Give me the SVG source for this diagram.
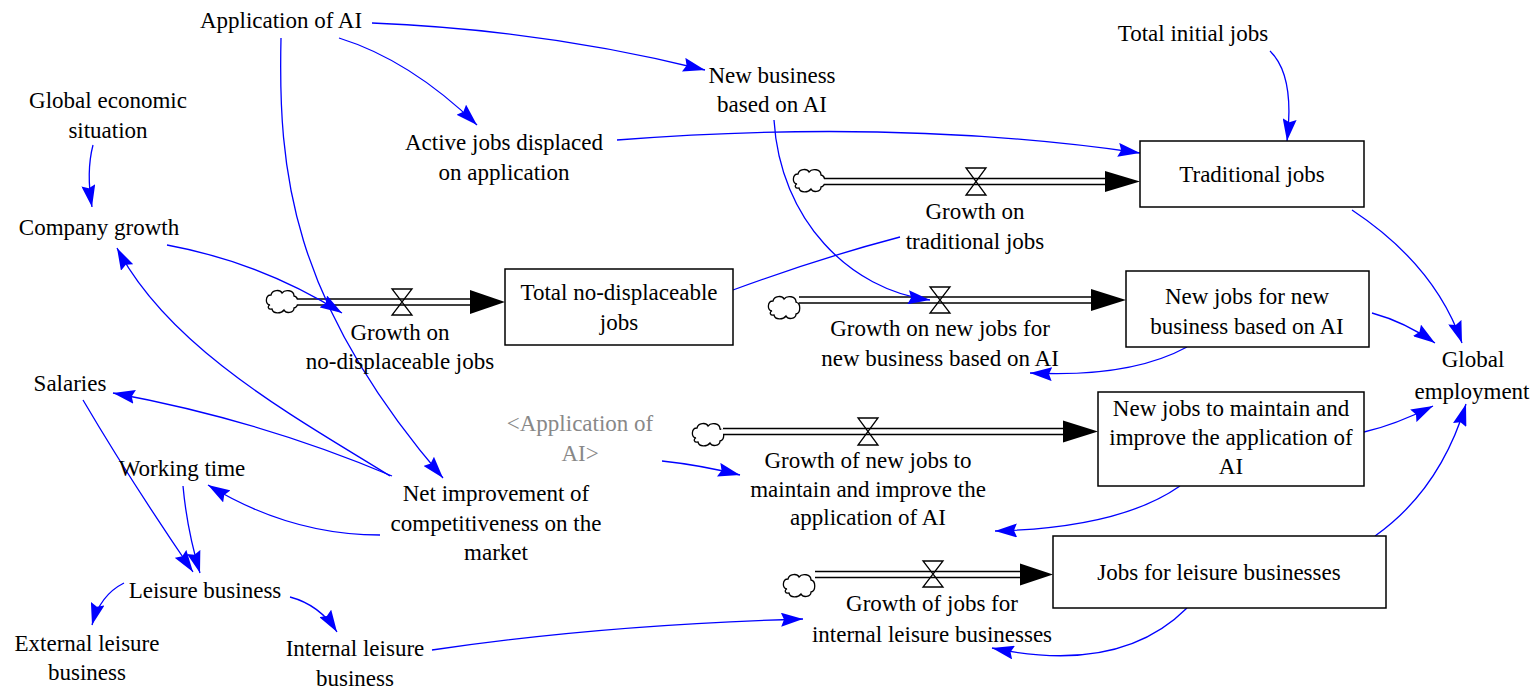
<svg xmlns="http://www.w3.org/2000/svg" width="1540" height="690" viewBox="0 0 1540 690">
<style>
text{font-family:"Liberation Serif","Times New Roman",serif;font-size:23px;fill:#000;text-anchor:middle}
.shadow{fill:#888}
.box{fill:#fff;stroke:#000;stroke-width:1.5}
.link{fill:none;stroke:#0000ff;stroke-width:1.3;marker-end:url(#a)}
.nolink{fill:none;stroke:#0000ff;stroke-width:1.3}
.pipeo{fill:none;stroke:#000;stroke-width:7.5}
.pipei{fill:none;stroke:#fff;stroke-width:4.5}
.valve{fill:none;stroke:#000;stroke-width:1.3}
.head{fill:#000}
.cloud{fill:#fff;stroke:#000;stroke-width:1.3}
</style>
<defs>
<marker id="a" viewBox="0 0 22 14" refX="22" refY="7" markerWidth="22" markerHeight="14" orient="auto" markerUnits="userSpaceOnUse">
<path d="M0,0 L22,7 L0,14 L3,7 Z" fill="#0000ff"/>
</marker>
<path id="cl" d="M-12,4 C-17,4 -17,-6 -11,-6 C-10,-11 -2,-12 0,-8 C3,-12 12,-11 12,-5 C17,-4 17,6 12,7 C12,12 4,13 2,9 C-1,13 -9,13 -10,8 C-14,9 -15,5 -12,4 Z"/>
</defs>
<rect width="1540" height="690" fill="#fff"/>

<g id="flows">
<g id="flow-traditional">
<use href="#cl" class="cloud" transform="translate(809,180)"/>
<path class="pipeo" d="M824,181.5 H1107"/><path class="pipei" d="M822,181.5 H1108"/>
<polygon class="head" points="1105,171 1140,181.5 1105,192"/>
<polygon class="valve" points="966,168 986,168 966,195 986,195"/>
</g>
<g id="flow-nodisplace">
<use href="#cl" class="cloud" transform="translate(282,301)"/>
<path class="pipeo" d="M297,302 H472"/><path class="pipei" d="M295,302 H473"/>
<polygon class="head" points="470,290 505,302 470,314"/>
<polygon class="valve" points="392,289 412,289 392,315 412,315"/>
</g>
<g id="flow-newbusiness">
<use href="#cl" class="cloud" transform="translate(784,307)"/>
<path class="pipeo" d="M799,300 H1093"/><path class="pipei" d="M797,300 H1094"/>
<polygon class="head" points="1091,289 1126,300 1091,311"/>
<polygon class="valve" points="930,287 950,287 930,313 950,313"/>
</g>
<g id="flow-maintain">
<use href="#cl" class="cloud" transform="translate(708,434)"/>
<path class="pipeo" d="M723,431.5 H1065"/><path class="pipei" d="M721,431.5 H1066"/>
<polygon class="head" points="1063,420.5 1098,431.5 1063,442.5"/>
<polygon class="valve" points="858,418 878,418 858,445 878,445"/>
</g>
<g id="flow-leisure">
<use href="#cl" class="cloud" transform="translate(799,585)"/>
<path class="pipeo" d="M815,574.5 H1022"/><path class="pipei" d="M813,574.5 H1023"/>
<polygon class="head" points="1020,563.5 1053,574.5 1020,585.5"/>
<polygon class="valve" points="923,561 943,561 923,587 943,587"/>
</g>
</g>

<g id="connectors">
<path class="link" d="M372,23 Q545,30 705,70"/>
<path class="link" d="M339,38 Q410,60 477,125"/>
<path class="link" d="M281,38 C278,170 290,300 443,478"/>
<path class="link" d="M93,145 Q86,172 92,207"/>
<path class="link" d="M167,245 Q260,262 342,313"/>
<path class="link" d="M390,476 C300,420 170,350 117,248"/>
<path class="link" d="M392,476 Q260,420 113,393"/>
<path class="link" d="M380,535 Q290,535 208,485"/>
<path class="link" d="M83,400 Q130,480 193,572"/>
<path class="link" d="M183,486 Q187,530 200,573"/>
<path class="link" d="M124,583 Q100,595 92,625"/>
<path class="link" d="M290,597 Q320,605 337,632"/>
<path class="link" d="M432,650 Q600,625 803,619"/>
<path class="link" d="M617,140 Q900,118 1140,153"/>
<path class="link" d="M1270,51 Q1295,75 1287,141"/>
<path class="link" d="M774,120 C780,220 850,290 930,300"/>
<path class="nolink" d="M733,290 Q820,258 900,237"/>
<path class="link" d="M1352,210 Q1435,265 1462,343"/>
<path class="link" d="M1372,313 Q1405,322 1435,343"/>
<path class="link" d="M1187,347 Q1130,378 1030,373"/>
<path class="link" d="M1364,432 Q1395,425 1433,406"/>
<path class="link" d="M1375,536 Q1440,490 1466,404"/>
<path class="link" d="M1180,486 Q1120,528 995,531"/>
<path class="link" d="M662,461 Q700,465 740,475"/>
<path class="link" d="M1187,608 Q1120,675 992,648"/>
</g>

<g id="application-of-ai"><text x="281" y="28">Application of AI</text></g>
<g id="global-economic-situation"><text x="108" y="108">Global economic</text><text x="108" y="138">situation</text></g>
<g id="company-growth"><text x="99" y="235">Company growth</text></g>
<g id="active-jobs-displaced"><text x="504" y="150">Active jobs displaced</text><text x="504" y="180">on application</text></g>
<g id="new-business"><text x="772" y="83">New business</text><text x="772" y="112">based on AI</text></g>
<g id="total-initial-jobs"><text x="1193" y="41">Total initial jobs</text></g>
<g id="traditional-jobs"><rect class="box" x="1140" y="141" width="224" height="66"/><text x="1252" y="182">Traditional jobs</text></g>
<g id="growth-traditional"><text x="975" y="219">Growth on</text><text x="975" y="249">traditional jobs</text></g>
<g id="total-no-displaceable"><rect class="box" x="505" y="269" width="228" height="76"/><text x="619" y="300">Total no-displaceable</text><text x="619" y="330">jobs</text></g>
<g id="growth-no-displaceable"><text x="400" y="340">Growth on</text><text x="400" y="369">no-displaceable jobs</text></g>
<g id="new-jobs-new-business"><rect class="box" x="1126" y="271" width="243" height="76"/><text x="1247" y="304">New jobs for new</text><text x="1247" y="334">business based on AI</text></g>
<g id="growth-new-jobs"><text x="940" y="336">Growth on new jobs for</text><text x="940" y="366">new business based on AI</text></g>
<g id="global-employment"><text x="1473" y="367">Global</text><text x="1472" y="399">employment</text></g>
<g id="salaries"><text x="70" y="391">Salaries</text></g>
<g id="working-time"><text x="182" y="476">Working time</text></g>
<g id="application-of-ai-shadow"><text class="shadow" x="580" y="431">&lt;Application of</text><text class="shadow" x="580" y="461">AI&gt;</text></g>
<g id="new-jobs-maintain"><rect class="box" x="1098" y="392" width="266" height="94"/><text x="1231" y="416">New jobs to maintain and</text><text x="1231" y="445">improve the application of</text><text x="1231" y="474">AI</text></g>
<g id="growth-maintain"><text x="868" y="468">Growth of new jobs to</text><text x="868" y="497">maintain and improve the</text><text x="868" y="525">application of AI</text></g>
<g id="net-improvement"><text x="496" y="501">Net improvement of</text><text x="496" y="531">competitiveness on the</text><text x="496" y="560">market</text></g>
<g id="leisure-business"><text x="205" y="598">Leisure business</text></g>
<g id="external-leisure"><text x="87" y="651">External leisure</text><text x="87" y="680">business</text></g>
<g id="internal-leisure"><text x="355" y="656">Internal leisure</text><text x="355" y="686">business</text></g>
<g id="jobs-leisure"><rect class="box" x="1053" y="536" width="333" height="72"/><text x="1219" y="580">Jobs for leisure businesses</text></g>
<g id="growth-leisure"><text x="932" y="611">Growth of jobs for</text><text x="932" y="642">internal leisure businesses</text></g>
</svg>
